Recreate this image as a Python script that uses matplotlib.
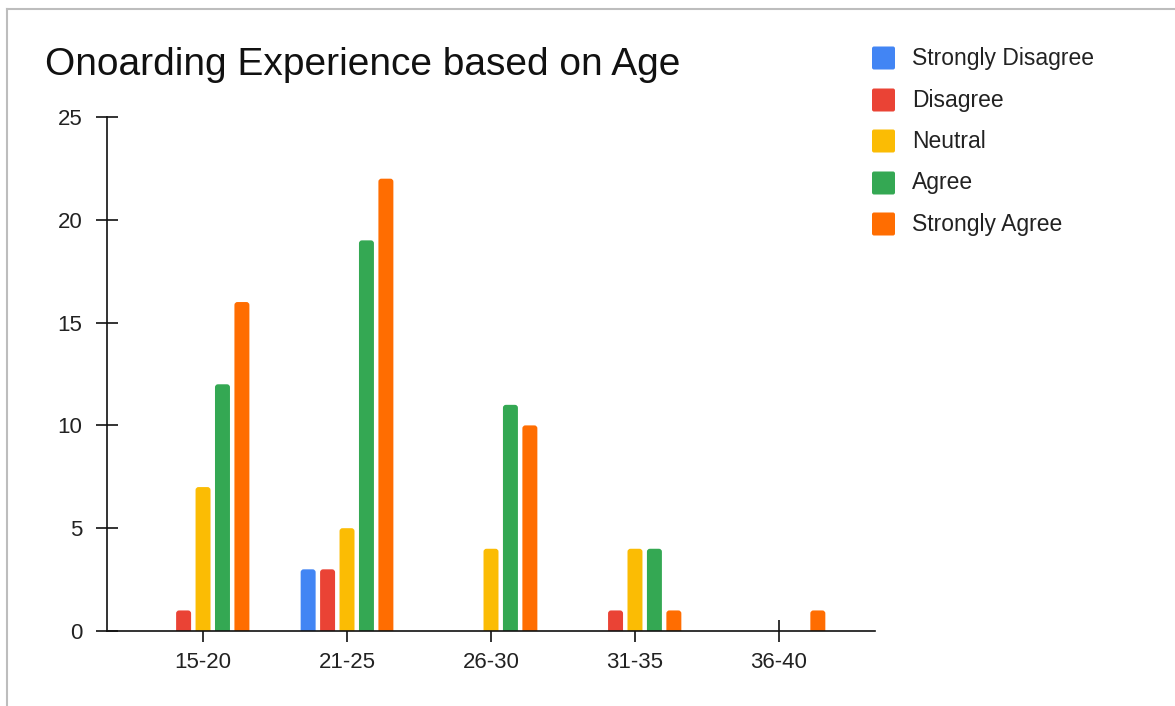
import numpy as np
import matplotlib
matplotlib.use("Agg")
import matplotlib.pyplot as plt
from matplotlib.patches import FancyBboxPatch
from matplotlib.lines import Line2D

# 年齢層ごとの回答数
age_groups = ["15-20", "21-25", "26-30", "31-35", "36-40"]
strongly_disagree = [0, 3, 0, 0, 0]
disagree = [1, 3, 0, 1, 0]
neutral = [7, 5, 4, 4, 0]
agree = [12, 19, 11, 4, 0]
strongly_agree = [16, 22, 10, 1, 1]

series_names = ["Strongly Disagree", "Disagree", "Neutral", "Agree", "Strongly Agree"]
series_values = [strongly_disagree, disagree, neutral, agree, strongly_agree]
series_colors = ["#4285F4", "#EA4335", "#FBBC04", "#34A853", "#FF6D01"]

plt.rcParams["font.family"] = ["Liberation Sans", "DejaVu Sans"]
text_color = "#222222"
axis_color = "#111111"

W, H = 1175, 706
fig = plt.figure(figsize=(W / 100, H / 100), dpi=100)
ax = fig.add_axes([107 / W, 1 - 631 / H, (875 - 107) / W, (631 - 117) / H])

x = np.arange(len(age_groups))
pitch = 0.135
bar_w = 0.104
ax.set_xlim(-0.667, len(age_groups) - 1 + 0.667)
ax.set_ylim(0, 25)

bars = []
for i, (name, vals, col) in enumerate(zip(series_names, series_values, series_colors)):
    offs = (i - (len(series_names) - 1) / 2) * pitch
    bars.append(ax.bar(x + offs, vals, width=bar_w, color=col, label=name))

# 棒の上端を角丸にする (下端は軸の下に隠す)
fig.canvas.draw()
px_x = ax.transData.transform((1, 0))[0] - ax.transData.transform((0, 0))[0]
px_y = ax.transData.transform((0, 1))[1] - ax.transData.transform((0, 0))[1]
r_px = 3.0
r_x = r_px / px_x
r_y = r_px / px_y
for container in bars:
    for rect in container:
        h = rect.get_height()
        rect.set_visible(False)
        if h <= 0:
            continue
        p = FancyBboxPatch((rect.get_x(), -r_y), rect.get_width(), h + r_y,
                           boxstyle=f"round,pad=0,rounding_size={r_x}",
                           mutation_aspect=r_y / r_x,
                           facecolor=rect.get_facecolor(), edgecolor="none",
                           zorder=2)
        ax.add_patch(p)

# 軸の設定
for s in ["top", "right"]:
    ax.spines[s].set_visible(False)
for s in ["left", "bottom"]:
    ax.spines[s].set_color(axis_color)
    ax.spines[s].set_linewidth(1.2)
    ax.spines[s].set_zorder(3)

ax.set_xticks(x)
ax.set_xticklabels(age_groups)
ax.set_yticks([0, 5, 10, 15, 20, 25])
ax.tick_params(axis="both", direction="inout", length=16.5, width=1.2,
               color=axis_color, labelcolor=text_color, labelsize=16)
ax.tick_params(axis="y", pad=9.4)
ax.tick_params(axis="x", pad=7)

# タイトル
fig.text(45 / W, 1 - 75 / H, "Onoarding Experience based on Age",
         fontsize=28, color="#111111", ha="left", va="baseline")

# 凡例 (手動配置)
leg_y = [58, 100, 141, 183, 224]
sq = 23
for name, col, yc in zip(series_names, series_colors, leg_y):
    box = FancyBboxPatch((872 / W, 1 - (yc + sq / 2) / H), sq / W, sq / H,
                         boxstyle=f"round,pad=0,rounding_size={2 / W}",
                         mutation_aspect=W / H,
                         transform=fig.transFigure, facecolor=col,
                         edgecolor="none")
    fig.add_artist(box)
    fig.text(912 / W, 1 - yc / H, name, fontsize=16.5, color=text_color,
             ha="left", va="center")

# 外枠 (上と左)
border = "#bdbdbd"
fig.add_artist(Line2D([7 / W, 1], [1 - 9 / H, 1 - 9 / H], color=border,
                      lw=1.5, transform=fig.transFigure))
fig.add_artist(Line2D([7 / W, 7 / W], [0, 1 - 9 / H], color=border,
                      lw=1.5, transform=fig.transFigure))

fig.savefig("out.png", dpi=100)
